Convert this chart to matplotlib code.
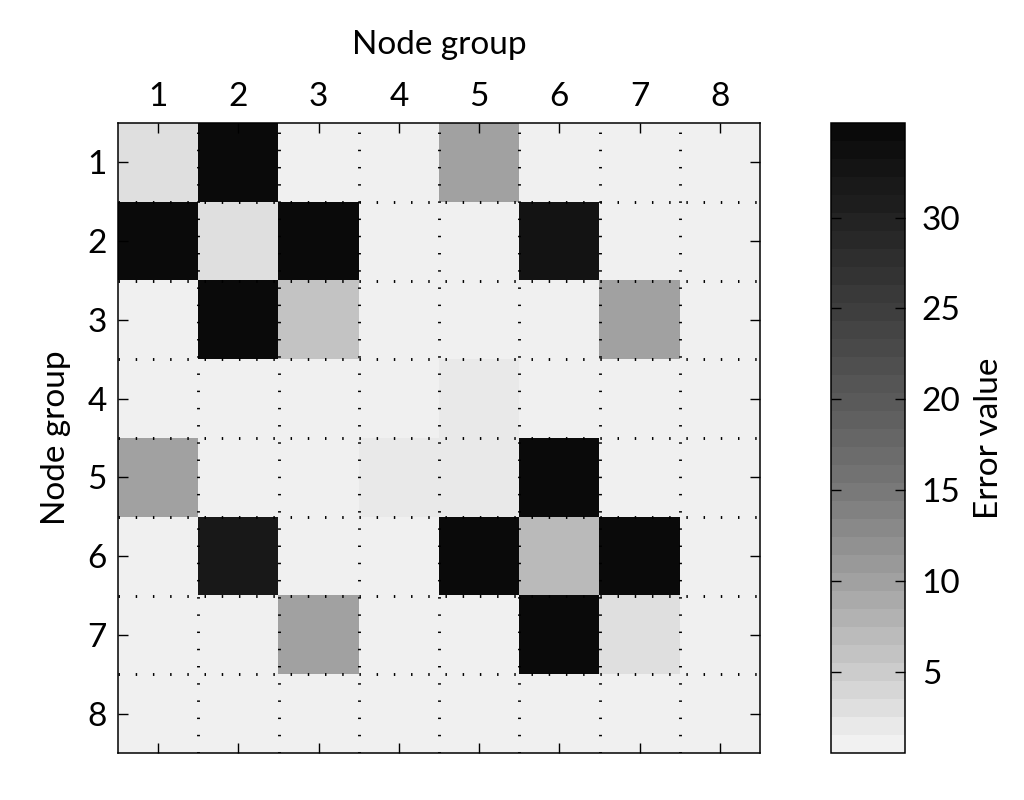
import numpy as np
import matplotlib
matplotlib.use('Agg')
import matplotlib.pyplot as plt
from matplotlib.colors import ListedColormap, Normalize

plt.rcParams['font.family'] = ['Lato', 'DejaVu Sans']

# error values per node group pair (row = node group i, column = node group j)
groups = [1, 2, 3, 4, 5, 6, 7, 8]
row1 = [3.0, 34.5, 0.6, 0.6, 10.3, 0.6, 0.6, 0.6]
row2 = [34.5, 2.8, 34.5, 0.6, 0.6, 33.0, 0.6, 0.6]
row3 = [0.6, 34.5, 5.5, 0.6, 0.6, 0.6, 10.3, 0.6]
row4 = [0.6, 0.6, 0.6, 0.6, 2.0, 0.6, 0.6, 0.6]
row5 = [10.3, 0.6, 0.6, 2.0, 2.2, 34.5, 0.6, 0.6]
row6 = [0.6, 32.0, 0.6, 0.6, 34.5, 7.0, 34.5, 0.6]
row7 = [0.6, 0.6, 10.3, 0.6, 0.6, 34.5, 3.0, 0.6]
row8 = [0.6, 0.6, 0.6, 0.6, 0.6, 0.6, 0.6, 0.6]
cbar_ticks = [5, 10, 15, 20, 25, 30]

errors = np.array([row1, row2, row3, row4, row5, row6, row7, row8])

vmin, vmax = 0.55, 35.2
n_levels = 35

# grey ramp, light -> dark
ramp_v = [vmin, 1.5, 5, 10, 15, 20, 25, 30, vmax]
ramp_g = [0.945, 0.935, 0.80, 0.63, 0.47, 0.35, 0.24, 0.13, 0.03]
centers = vmin + (np.arange(n_levels) + 0.5) * (vmax - vmin) / n_levels
centers[0] = vmin
greys = np.interp(centers, ramp_v, ramp_g)
cmap = ListedColormap([(g, g, g) for g in greys])

fig = plt.figure(figsize=(10.24, 8), dpi=100)
ax = fig.add_axes([118 / 1024, 47 / 800, 642 / 1024, 630 / 800])
cax = fig.add_axes([831 / 1024, 47 / 800, 74 / 1024, 630 / 800])

im = ax.imshow(errors, cmap=cmap, norm=Normalize(vmin, vmax),
               extent=(0.5, 8.5, 8.5, 0.5), aspect='auto',
               interpolation='nearest')

ax.set_xticks(groups)
ax.set_yticks(groups)
ax.set_xticklabels(groups)
ax.set_yticklabels(groups)
ax.set_xticks(np.arange(1.5, 8.5, 1), minor=True)
ax.set_yticks(np.arange(1.5, 8.5, 1), minor=True)
ax.xaxis.tick_top()
ax.xaxis.set_label_position('top')
ax.tick_params(which='major', direction='in', length=7, width=1,
               top=True, bottom=True, left=True, right=True,
               labelsize=24, pad=8)
ax.tick_params(which='minor', length=0)
ax.grid(which='minor', color='black', linestyle=(0, (0.5, 5.4)), linewidth=2.1)
ax.grid(which='major', visible=False)
for s in ax.spines.values():
    s.set_linewidth(1.1)

ax.set_xlabel('Node group', fontsize=24, labelpad=20)
ax.set_ylabel('Node group', fontsize=24, labelpad=12)

cb = fig.colorbar(im, cax=cax, ticks=cbar_ticks)
cb.ax.tick_params(direction='in', length=7, width=1, left=True, right=True,
                  labelsize=24, pad=12)
cb.outline.set_linewidth(1.1)
cb.set_label('Error value', fontsize=24, labelpad=10)

fig.savefig('out.png', dpi=100)
